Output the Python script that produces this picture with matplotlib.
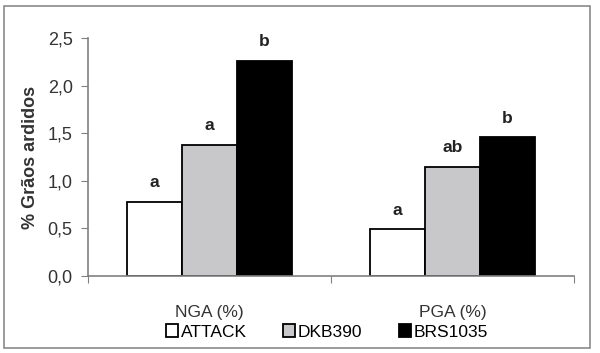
import numpy as np
from matplotlib import pyplot as plt
from matplotlib.patches import Rectangle

plt.rcParams['font.family'] = ['Liberation Sans', 'DejaVu Sans']

categories = ['NGA (%)', 'PGA (%)']
series = ['ATTACK', 'DKB390', 'BRS1035']
values = {
    'ATTACK': [0.78, 0.49],
    'DKB390': [1.38, 1.15],
    'BRS1035': [2.26, 1.46],
}
letters = {
    'ATTACK': ['a', 'a'],
    'DKB390': ['a', 'ab'],
    'BRS1035': ['b', 'b'],
}
colors = {'ATTACK': 'white', 'DKB390': '#c8c8ca', 'BRS1035': 'black'}
yticks = [0.0, 0.5, 1.0, 1.5, 2.0, 2.5]

fig = plt.figure(figsize=(6.0, 3.53), dpi=100)
ax = fig.add_axes([88/600, 1-276/353, (574-88)/600, (276-38)/353])

# outer frame
fig.patches.append(Rectangle((4/600, 5/353), 586/600, 342/353, transform=fig.transFigure,
                             fill=False, edgecolor='#8a8a8a', linewidth=1.2))

x = np.arange(len(categories))
w = 0.226
for i, s in enumerate(series):
    pos = x + (i - 1) * w
    ax.bar(pos, values[s], width=w, color=colors[s], edgecolor='black', linewidth=1.3,
           label=s)
    for p, v, t in zip(pos, values[s], letters[s]):
        ax.text(p, v + 0.12, t, ha='center', va='bottom', fontsize=12.5, fontweight='bold',
                color='#222222')

ax.set_xlim(-0.5, 1.5)
ax.set_ylim(0, 2.5)
ax.set_yticks(yticks)
ax.set_yticklabels([f'{t:.1f}'.replace('.', ',') for t in yticks], fontsize=13, color='#333333')
ax.set_xticks([-0.5, 0.5, 1.5])
ax.set_xticklabels([])
ax.tick_params(axis='y', direction='out', length=5, color='#808080', pad=6)
ax.tick_params(axis='x', direction='out', length=5, color='#808080')
for c, lab in zip(x, categories):
    ax.text(c, -0.30, lab, ha='center', va='top', fontsize=12.5, color='#333333',
            transform=ax.transData)

for sp in ['top', 'right']:
    ax.spines[sp].set_visible(False)
for sp in ['left', 'bottom']:
    ax.spines[sp].set_color('#808080')
    ax.spines[sp].set_linewidth(1.2)

ax.set_ylabel('% Grãos ardidos', fontsize=13, fontweight='bold', color='#333333', labelpad=6)

fig.legend(loc='center', bbox_to_anchor=(327/600, 1-332/353), ncol=3, frameon=False,
           fontsize=12.5, handlelength=0.7, handleheight=0.7, handletextpad=0.15,
           columnspacing=2.1, borderpad=0)

fig.savefig('out.png', dpi=100)
